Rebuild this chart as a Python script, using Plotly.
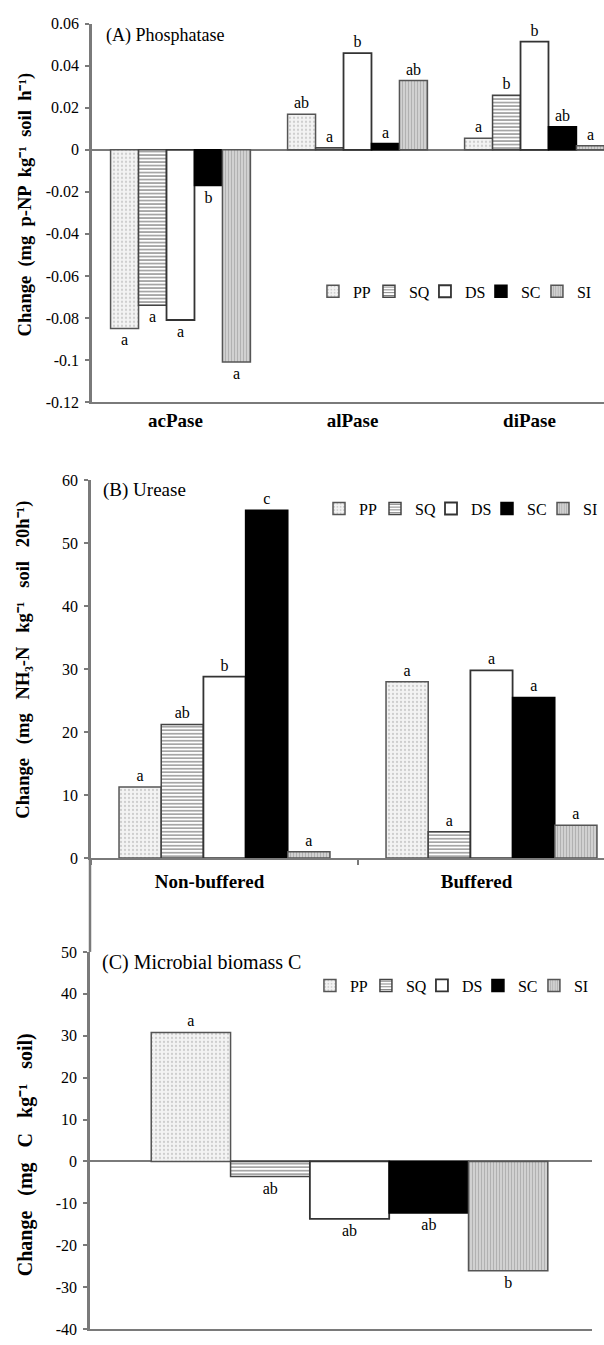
import plotly.graph_objects as go

# ---- data -------------------------------------------------------------
treatments = ["PP", "SQ", "DS", "SC", "SI"]

# (A) Phosphatase change, mg p-NP kg-1 soil h-1
phos_cats = ["acPase", "alPase", "diPase"]
phos_vals = {
    "PP": [-0.085, 0.017, 0.0055],
    "SQ": [-0.074, 0.001, 0.026],
    "DS": [-0.081, 0.046, 0.0515],
    "SC": [-0.017, 0.003, 0.011],
    "SI": [-0.101, 0.033, 0.002],
}
phos_letters = {
    "PP": ["a", "ab", "a"],
    "SQ": ["a", "a", "b"],
    "DS": ["a", "b", "b"],
    "SC": ["b", "a", "ab"],
    "SI": ["a", "ab", "a"],
}
phos_ticks = [0.06, 0.04, 0.02, 0, -0.02, -0.04, -0.06, -0.08, -0.1, -0.12]
phos_ticktext = ["0.06", "0.04", "0.02", "0", "-0.02", "-0.04", "-0.06", "-0.08", "-0.1", "-0.12"]

# (B) Urease change, mg NH3-N kg-1 soil 20h-1
ure_cats = ["Non-buffered", "Buffered"]
ure_vals = {
    "PP": [11.3, 28.0],
    "SQ": [21.2, 4.2],
    "DS": [28.8, 29.8],
    "SC": [55.2, 25.5],
    "SI": [1.0, 5.2],
}
ure_letters = {
    "PP": ["a", "a"],
    "SQ": ["ab", "a"],
    "DS": ["b", "a"],
    "SC": ["c", "a"],
    "SI": ["a", "a"],
}
ure_ticks = [0, 10, 20, 30, 40, 50, 60]
ure_ticktext = ["0", "10", "20", "30", "40", "50", "60"]

# (C) Microbial biomass C change, mg C kg-1 soil
mbc_cats = ["MBC"]
mbc_vals = {"PP": [30.8], "SQ": [-3.6], "DS": [-13.7], "SC": [-12.3], "SI": [-26.1]}
mbc_letters = {"PP": ["a"], "SQ": ["ab"], "DS": ["ab"], "SC": ["ab"], "SI": ["b"]}
mbc_ticks = [50, 40, 30, 20, 10, 0, -10, -20, -30, -40]
mbc_ticktext = ["50", "40", "30", "20", "10", "0", "-10", "-20", "-30", "-40"]

# ---- page geometry ----------------------------------------------------
W, H = 604, 1345
SERIF = "Liberation Serif"
GRAY = "#7a7a7a"


def px_x(v):
    return v / W


def px_y(v):
    return 1 - v / H


styles = {
    "PP": dict(color="#f3f3f3", line=dict(color="#555555", width=1.5),
               pattern=dict(shape=".", fgcolor="#a8a8a8", bgcolor="#f3f3f3", size=4, solidity=0.25)),
    "SQ": dict(color="white", line=dict(color="#444444", width=1.5),
               pattern=dict(shape="-", fgcolor="black", bgcolor="white", size=3.5, solidity=0.35)),
    "DS": dict(color="white", line=dict(color="#333333", width=1.8)),
    "SC": dict(color="black", line=dict(color="black", width=1.5)),
    "SI": dict(color="#d6d6d6", line=dict(color="#555555", width=1.5),
               pattern=dict(shape="|", fgcolor="#8c8c8c", bgcolor="#d6d6d6", size=3, solidity=0.45)),
}

fig = go.Figure()

panels = [
    (phos_cats, phos_vals, phos_letters, "x", "y", "legend"),
    (ure_cats, ure_vals, ure_letters, "x2", "y2", "legend2"),
    (mbc_cats, mbc_vals, mbc_letters, "x3", "y3", "legend3"),
]
for cats, vals, letters, xa, ya, lg in panels:
    for t in treatments:
        fig.add_trace(go.Bar(
            x=cats, y=vals[t], name=t, text=letters[t],
            textposition="outside", constraintext="none", cliponaxis=False,
            textfont=dict(family=SERIF, size=16, color="black"),
            marker=styles[t], xaxis=xa, yaxis=ya, legend=lg,
            # compact legend entries; the last one keeps room for its label
            legendwidth=11 if t != treatments[-1] else 16,
            hoverinfo="skip",
        ))

# panel extents in page pixels
A_x0, A_top, A_bot = 92, 16, 399
B_x0, B_top, B_bot = 91, 478, 861
C_x0, C_x1, C_top, C_bot = 90, 592, 956, 1338

A_range = [-0.12, 0.06]
A_xrange = [-0.5, -0.5 + (W - A_x0) / 177]
B_xrange = [-0.5, -0.5 + (W - B_x0) / 267]
C_xrange = [-0.517, 0.483]

yaxis_common = dict(showline=True, linecolor=GRAY, linewidth=2.5, ticks="outside",
                    ticklen=4, tickcolor=GRAY, tickwidth=1.5, showgrid=False,
                    tickfont=dict(family=SERIF, size=16, color="black"),
                    tickmode="array", ticklabelstandoff=3)
xaxis_common = dict(type="category", showline=True, linecolor=GRAY, linewidth=1.5,
                    showgrid=False, zeroline=False,
                    tickfont=dict(family=SERIF, size=19, color="black", weight="bold"))

A_ydom = [px_y(A_bot), px_y(A_top)]
zero_pos_A = A_ydom[0] + (0 - A_range[0]) / (A_range[1] - A_range[0]) * (A_ydom[1] - A_ydom[0])

fig.update_layout(
    width=W, height=H, margin=dict(l=0, r=0, t=0, b=0),
    paper_bgcolor="white", plot_bgcolor="white",
    barmode="group", bargap=0.21, bargroupgap=0,
    font=dict(family=SERIF, color="black"),
    xaxis=dict(xaxis_common, domain=[px_x(A_x0), 1], range=A_xrange, anchor="y",
               categoryorder="array", categoryarray=phos_cats, ticks="",
               ticklabelstandoff=0, ticklabelshift=-5),
    yaxis=dict(yaxis_common, domain=A_ydom, range=A_range, anchor="x",
               tickvals=phos_ticks, ticktext=phos_ticktext,
               zeroline=True, zerolinecolor=GRAY, zerolinewidth=1.5),
    # category dividers on the zero line of panel A
    xaxis4=dict(overlaying="x", anchor="free", position=zero_pos_A, range=A_xrange,
                tickmode="array", tickvals=[i + 0.5 for i in range(len(phos_cats) - 1)],
                ticks="outside", ticklen=5, tickcolor=GRAY, tickwidth=1.5,
                showticklabels=False, showline=False, showgrid=False, zeroline=False),
    xaxis2=dict(xaxis_common, domain=[px_x(B_x0), 1], range=B_xrange, anchor="y2",
                categoryorder="array", categoryarray=ure_cats, ticks="outside",
                tickson="boundaries", ticklen=5, tickcolor=GRAY, tickwidth=1.5,
                ticklabelstandoff=5, ticklabelshift=-15),
    yaxis2=dict(yaxis_common, domain=[px_y(B_bot), px_y(B_top)], range=[0, 60], anchor="x2",
                tickvals=ure_ticks, ticktext=ure_ticktext, zeroline=False),
    xaxis3=dict(xaxis_common, domain=[px_x(C_x0), px_x(C_x1)], range=C_xrange, anchor="y3",
                categoryorder="array", categoryarray=mbc_cats, ticks="", showticklabels=False),
    yaxis3=dict(yaxis_common, domain=[px_y(C_bot), px_y(C_top)], range=[-40, 50], anchor="x3",
                tickvals=mbc_ticks, ticktext=mbc_ticktext,
                zeroline=True, zerolinecolor=GRAY, zerolinewidth=1.5),
)

legend_common = dict(orientation="h", xanchor="right", yanchor="middle",
                     font=dict(family=SERIF, size=16, color="black"),
                     bgcolor="rgba(0,0,0,0)", itemwidth=30, itemclick=False,
                     itemdoubleclick=False, tracegroupgap=0, entrywidthmode="pixels")
fig.update_layout(
    legend=dict(legend_common, x=0.99, y=px_y(287)),
    legend2=dict(legend_common, x=1.0, y=px_y(507)),
    legend3=dict(legend_common, x=0.985, y=px_y(990)),
)

# panel headings
for txt, xp, yp, sz in [("(A) Phosphatase", 104, 28, 18),
                        ("(B) Urease", 101, 488, 19),
                        ("(C) Microbial biomass C", 100, 967, 20)]:
    fig.add_annotation(text=txt, x=px_x(xp), y=px_y(yp), xref="paper", yref="paper",
                       xanchor="left", yanchor="middle", showarrow=False,
                       font=dict(family=SERIF, size=sz, color="black"))

# y-axis titles (unit exponents written with Unicode super/subscripts)
for txt, xp, yp, sz in [("Change  (mg  p-NP  kg⁻¹  soil  h⁻¹)", 25, 199, 18.5),
                        ("Change   (mg   NH₃-N   kg⁻¹   soil   20h⁻¹)", 24, 660, 18.5),
                        ("Change   (mg   C   kg⁻¹   soil)", 25, 1162, 20)]:
    fig.add_annotation(text=txt, x=px_x(xp), y=px_y(yp), xref="paper", yref="paper",
                       xanchor="center", yanchor="middle", textangle=-90, showarrow=False,
                       font=dict(family=SERIF, size=sz, color="black", weight="bold"))

# vertical rule joining the left axes of panels B and C
fig.add_shape(type="line", xref="paper", yref="paper",
              x0=px_x(C_x0), x1=px_x(C_x0), y0=px_y(B_bot), y1=px_y(C_top),
              line=dict(color=GRAY, width=2.5))

fig.write_html("out.html")
